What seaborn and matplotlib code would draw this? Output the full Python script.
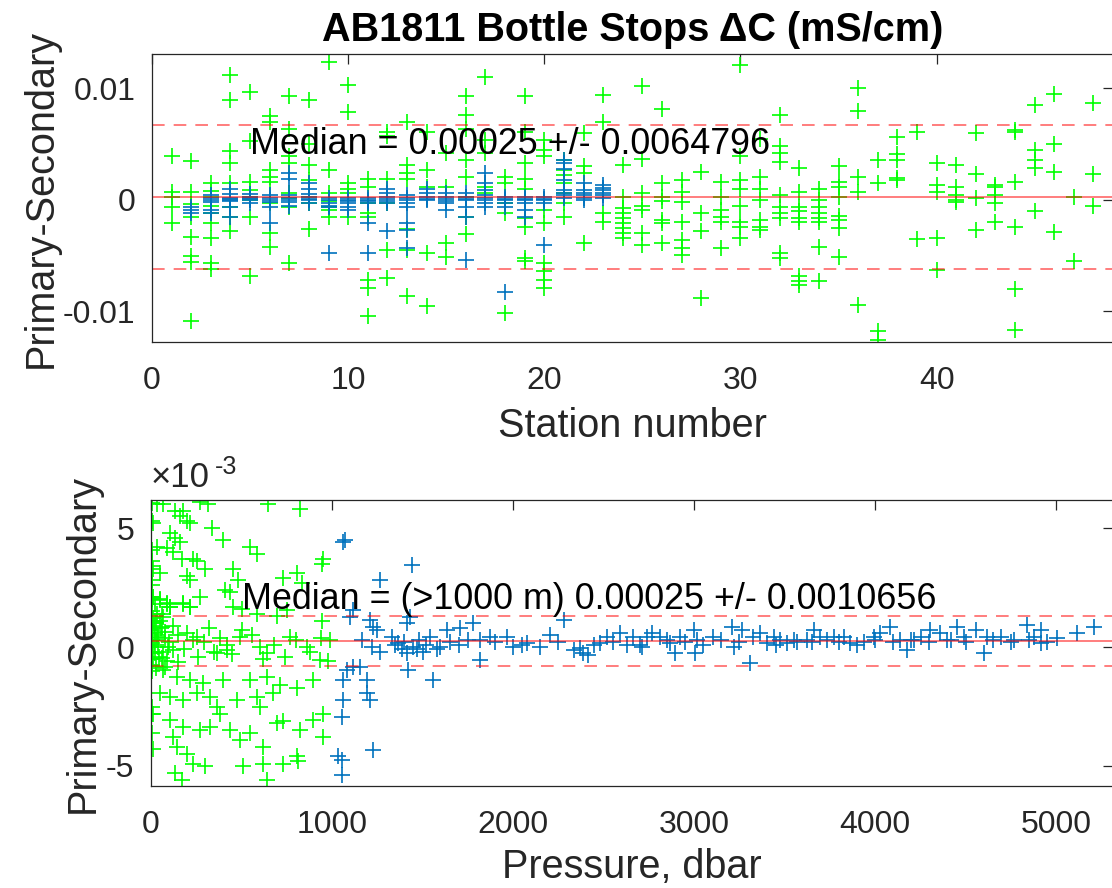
import numpy as np
import pandas as pd
import matplotlib
matplotlib.use("Agg")
import matplotlib.pyplot as plt
import seaborn as sns

# values in units of 1e-3 mS/cm
SCALE = 1e-3

# top panel: shallow (green) bottles per station, index 0 -> station 1
top_green = [
    [3.9, 0.75, 0.3, -0.6, -2.1],
    [3.5, 0.75, -0.4, -1.5, -3.3, -5.0, -5.6, -10.9],
    [1.5, 0.8, 0.3, -0.5, -1.2, -2.1, -3.4, -5.7, -6.2],
    [11.2, 9.0, 4.4, 3.3, 1.5, -0.6, -1.5, -2.8],
    [9.7, 5.3, 1.6, 0.9, 0.3, 0.0, -1.5, -6.8],
    [7.5, 7.0, 2.7, 2.1, 1.6, -0.3, -3.0, -4.2],
    [9.3, 6.4, 3.9, 3.3, 0.6, 0.2, -0.6, -5.7],
    [9.0, 5.0, 3.1, 1.8, 0.3, -0.3, -2.6],
    [12.4, 2.7, 0.6, -0.1, -0.6, -0.9, -1.5],
    [10.3, 7.9, 1.5, 1.0, 0.6, -1.5],
    [1.9, 1.2, -0.3, -1.2, -1.5, -7.2, -7.9, -10.4],
    [6.1, 5.7, 1.9, -0.3, -4.5, -7.0],
    [7.0, 3.1, 2.4, 1.9, -2.6, -4.5, -8.6],
    [6.1, 2.7, 1.2, -4.8, -9.5],
    [4.2, 1.2, -3.9, -5.1],
    [9.3, 7.6, 6.4, 3.6, 2.1, 0.3, -1.5, -3.1],
    [11.0, 5.4, 4.2, 1.2, 0.6],
    [2.1, 1.5, -0.3, -1.2, -10.1],
    [9.3, 6.1, 3.3, 1.9, 1.0, -1.6, -2.4, -5.2, -5.5],
    [5.4, 4.5, 3.9, -0.9, -2.1, -5.7, -6.4, -7.2, -7.9],
    [3.6, 2.7, 2.2, 1.5, 0.6, -0.3, -1.5],
    [6.0, 3.0, 2.4, -3.9],
    [9.4, 7.0, -1.2, -2.0],
    [3.1, 0.3, -0.7, -1.2, -1.6, -2.1, -2.5, -3.0, -3.4],
    [10.2, 3.7, 0.6, -0.5, -0.9, -3.0, -4.0],
    [8.2, 1.5, 0.3, -0.1, -1.8, -2.1, -3.9],
    [1.8, 0.75, -0.15, -2.0, -3.6, -4.3, -4.9],
    [2.5, -1.2, -2.8, -8.8],
    [1.6, 0.3, -0.9, -1.5, -2.0, -4.3],
    [12.1, 3.9, 1.8, 1.0, -0.5, -2.0, -2.4, -3.4],
    [5.5, 2.1, 1.0, 0.0, -1.8, -2.4, -2.7],
    [7.6, 4.8, 4.2, 3.4, 0.45, -0.6, -1.2, -1.6, -4.8, -5.2],
    [2.9, 0.75, -0.6, -1.0, -1.6, -2.0, -6.8, -7.3, -7.6],
    [1.0, 0.0, -0.6, -1.2, -1.6, -2.0, -4.2, -7.3],
    [3.0, 1.6, 1.2, 0.3, -1.4, -1.8, -2.5, -5.1],
    [10.0, 8.0, 2.1, 0.75, -9.4],
    [3.6, 1.5, -11.8, -12.6],
    [5.6, 4.1, 3.6, 2.0, 1.8],
    [6.1, -3.5],
    [3.35, 1.35, 0.75, -3.4, -6.3],
    [3.1, 1.2, 0.45, 0.0, -0.15],
    [6.0, 2.3, 0.15, -2.7],
    [1.35, 1.2, 0.45, -0.3, -2.0],
    [6.3, 6.1, 1.6, -2.4, -8.0, -11.7],
    [8.5, 4.5, 3.6, 2.9, -0.96],
    [9.5, 5.0, 2.5, -2.9],
    [0.3, -5.5],
    [8.7, 2.3, -0.5],
]

# top panel: deep (blue) bottles, stations 2..23
top_blue_stations = list(range(2, 24))
top_blue = [
    [-0.6, -0.9, -1.2],
    [0.4, 0.2, 0.0, -0.2, -0.9, -1.2],
    [1.0, 0.5, 0.2, 0.1, 0.0, -0.1, -0.6, -1.5],
    [0.5, 0.3, 0.2, 0.1, 0.0, -0.3],
    [0.4, 0.2, 0.0, -0.2, -0.6, -2.1],
    [2.4, 1.9, 0.4, 0.2, 0.0, -0.2, -0.5],
    [1.5, 1.0, 0.5, 0.3, 0.1, 0.0, -0.3],
    [0.2, 0.0, -0.3, -0.5, -0.6, -4.8],
    [0.2, 0.0, -0.1, -0.3, -0.6, -0.9],
    [0.2, 0.0, -0.1, -0.3, -2.1, -4.8],
    [1.0, 0.6, 0.3, 0.1, -0.1, -0.3, -2.8],
    [0.4, 0.2, 0.0, -0.3, -0.6, -2.1, -2.7, -4.3],
    [1.0, 0.6, 0.3, 0.1, 0.0],
    [0.6, 0.3, 0.1, -0.1, -0.3, -0.9],
    [0.6, 0.3, 0.1, 0.0, -0.6, -1.5, -5.4],
    [2.4, 1.5, 0.9, 0.4, 0.2, 0.0, -0.3, -0.6],
    [0.3, 0.1, 0.0, -0.3, -0.6, -8.3],
    [0.3, 0.1, 0.0, -0.3, -0.9, -1.5],
    [0.3, 0.1, 0.0, -0.3, -4.0],
    [3.6, 3.3, 2.8, 1.8, 0.9, 0.6, 0.4, 0.2],
    [1.5, 0.9, 0.6, 0.4, 0.2, 0.0],
    [1.3, 1.1, 0.9, 0.6, 0.4, 0.2],
]

# bottom panel: shallow (green) bottles, pressure (dbar) and dC (1e-3)
bot_green_p = [
    31, 68, 271, 317, 648, 823, 133, 179, 160, 197, 215, 13, 335, 105, 133, 160,
    400, 31, 87, 123, 547, 584, 952, 943, 170, 234, 252, 298, 455, 483, 13, 50,
    197, 215, 731, 805, 833, 409, 271, 437, 13, 50, 87, 105, 179, 215, 455, 501,
    584, 694, 750, 943,
    5, 10, 15, 20, 25, 30, 35, 40, 45, 55, 60, 65, 75, 90, 8, 12, 18, 22, 28,
    5, 5, 5, 50, 100, 120, 150, 180, 200, 230, 260, 290, 320, 350, 380, 420,
    450, 500, 560, 620, 680, 740, 800, 880, 940, 980,
    68, 142, 215, 289, 400, 547, 639, 713, 805, 897, 50, 105, 179, 252, 326,
    363, 473, 584, 602, 676, 13, 105, 179, 271, 326, 381, 437, 492, 547, 694,
    731, 823, 897, 952, 952, 13, 123, 142, 197, 234, 298, 133, 170, 510, 621,
    621, 639, 731, 805, 814,
    3, 3, 3, 3, 3, 3, 3, 3, 3, 3, 3, 3, 3, 3, 3, 3, 3,
    13, 50, 87, 105, 31, 68, 22, 59, 78, 40, 4, 96, 123, 22, 59, 151, 4, 78,
    179, 215, 252, 363, 418, 492, 602, 639, 768, 860, 934, 989,
]
bot_green_dc = [
    6.0, 6.0, 6.1, 6.0, 6.0, 5.8, 5.7, 5.7, 5.5, 5.3, 5.2, 5.2, 5.0, 4.8, 4.6, 4.4,
    4.5, 4.2, 4.15, 4.0, 4.2, 3.9, 3.7, 3.5, 3.7, 3.7, 3.6, 3.3, 3.3, 2.8, 3.3, 3.1,
    3.0, 2.8, 2.9, 3.1, 2.7, 2.4, 2.1, 2.3, 2.1, 2.0, 1.8, 1.7, 1.8, 1.7, 1.7, 1.6,
    1.4, 1.3, 1.55, 1.1,
    1.5, 1.2, 0.9, 0.6, 0.3, 1.0, 0.5, 0.0, -0.4, 0.8, 1.4, -0.2, 0.4, -0.6, -0.2, -0.5, 0.1, 1.8, -0.9,
    2.6, 0.3, -1.0, 1.1, 0.2, 0.9, 0.5, -0.1, 0.6, 0.3, -0.4, 0.2, 0.8, -0.2, 0.4, 0.1,
    -0.3, 0.7, 0.5, -0.5, 0.1, -0.4, 0.3, -0.2, 0.4, -0.6,
    -0.97, -1.25, -1.4, -1.53, -1.4, -1.4, -1.25, -1.6, -1.74, -1.4, -1.95, -2.1, -2.23, -1.95, -2.1,
    -2.5, -2.23, -2.1, -2.5, -1.95, -2.8, -3.07, -3.35, -3.5, -3.35, -2.8, -3.5, -3.9, -3.6, -3.2,
    -3.1, -3.5, -3.07, -2.8, -3.8, -4.3, -3.8, -4.2, -4.5, -4.9, -5.0, -5.3, -5.6, -5.0, -4.2,
    -4.9, -5.6, -4.9, -4.6, -4.8,
    6.05, 5.3, 4.1, 3.6, 3.4, 2.8, 2.0, 1.1, 0.8, 0.7, 0.3, -0.25, -0.5, -0.8, -2.5, -2.8, -3.6,
    2.12, 1.98, 1.84, 1.69, 1.41, 1.27, 0.99, 0.85, 0.64, 0.43, 0.15, 0.0, -0.14, -0.27, -0.48, -0.62, -0.76, -0.83,
    1.84, 1.69, 0.43, -0.27, -0.14, 0.43, 0.0, -0.27, 0.43, 0.0, -0.55, 0.29,
]

# bottom panel: deep (blue) bottles
bot_blue_p = [
    1063, 1440, 1265, 1118, 1099, 1210, 1229, 1247, 1413, 1431, 1164, 1220, 1265,
    1330, 1366, 1385, 1413, 1468, 1505, 1541, 1597, 1634, 1708, 1781, 1818, 1873,
    1965, 2002, 2076, 2149, 2205, 2279, 2334, 2389, 1818, 1560, 1422, 1192, 1192,
    1210, 1063, 1053, 1229, 1053, 1053, 1118, 1081, 1155, 1063, 1072, 1035,
    2370, 2416, 2481, 2518, 2591, 2628, 2665, 2711, 2739, 2766, 2812, 2868, 2895,
    2923, 2997, 3006, 3015, 3107, 3209, 3218, 3264, 3310, 3328, 3365, 3402, 3439,
    3476, 3513, 3568, 3623, 3660, 3697, 3734, 3771, 3826, 3863, 3937, 3992, 4029,
    4085, 4140, 4177, 4214, 4251, 4306, 4361, 4417, 4453, 4490, 4555, 4601, 4619,
    4693, 4766, 4840, 4877, 4914, 4914, 5006, 5117, 5209,
    1350, 1400, 1450, 1480, 1520, 1580, 1650, 1700, 1750, 1900, 2050, 2250, 2450,
    2550, 2700, 2850, 2950, 3050, 3150, 3250, 3450, 3550, 3650, 3800, 3900, 4000,
    4100, 4200, 4300, 4400, 4500, 4650, 4750, 4850, 4950,
]
bot_blue_dc = [
    4.43, 3.45, 2.82, 1.55, 1.27, 1.13, 0.85, 0.71, 0.99, 1.27, 0.29, 0.0, -0.2,
    0.43, 0.15, -0.07, -0.27, -0.07, -0.2, 0.43, 0.0, 0.71, 0.78, 0.99, 0.29, 0.43,
    0.43, 0.0, 0.15, 0.0, 0.5, 1.13, -0.13, -0.27, -0.55, -1.4, -0.97, -1.4, -1.95,
    -2.23, -2.23, -2.93, -4.33, -4.75, -5.38, -0.83, -0.97, -0.83, -1.4, 4.5, -4.6,
    -0.04, -0.32, 0.15, 0.43, 0.57, 0.08, 0.43, 0.0, 0.43, 0.57, 0.43, 0.15, -0.27,
    0.43, 0.71, -0.27, 0.29, 0.43, 0.85, 0.0, 0.71, -0.69, 0.43, 0.57, 0.15, 0.43,
    0.29, 0.15, 0.22, 0.29, 0.71, 0.43, 0.29, 0.43, 0.43, 0.15, 0.22, 0.43, 0.57,
    0.85, 0.29, -0.13, 0.29, 0.43, 0.71, 0.57, 0.29, 0.85, 0.43, 0.71, -0.27, 0.43,
    0.43, 0.29, 0.92, 0.43, 0.71, 0.15, 0.36, 0.57, 0.85,
    0.1, 0.2, 0.0, 0.3, 0.1, -0.1, 0.2, 0.1, 0.3, 0.2, 0.1, 0.2, 0.1,
    0.2, 0.1, 0.3, 0.2, 0.1, 0.3, 0.2, 0.1, 0.3, 0.2, 0.2, 0.1, 0.3,
    0.2, 0.3, 0.2, 0.3, 0.2, 0.3, 0.2, 0.3, 0.2,
]

median = 0.00025
spread_top = 0.0064796
spread_bot = 0.0010656

GREEN = "#00ff00"
BLUE = "#0072bd"
AX_COLOR = "#262626"
FONT = ["Liberation Sans", "DejaVu Sans"]
LABEL_SIZE = 28.5

sns.set_theme(style="white")
plt.rcParams["font.family"] = FONT
plt.rcParams["axes.unicode_minus"] = False


def flatten(stations, groups):
    st, dc = [], []
    for s, vals in zip(stations, groups):
        st += [s] * len(vals)
        dc += [v * SCALE for v in vals]
    return pd.DataFrame({"x": st, "y": dc})


df_tg = flatten(range(1, len(top_green) + 1), top_green)
df_tb = flatten(top_blue_stations, top_blue)
df_bg = pd.DataFrame({"x": bot_green_p, "y": np.array(bot_green_dc) * SCALE})
df_bb = pd.DataFrame({"x": bot_blue_p, "y": np.array(bot_blue_dc) * SCALE})


def style_axes(ax):
    for sp in ax.spines.values():
        sp.set_color(AX_COLOR)
        sp.set_linewidth(0.9)
    ax.tick_params(direction="in", top=True, right=True, length=7, width=0.9,
                   colors=AX_COLOR, labelsize=23)
    ax.tick_params(axis="y", pad=12)
    ax.tick_params(axis="x", pad=17)


def ref_lines(ax, spread):
    ax.axhline(median, color="red", alpha=0.55, lw=1.3)
    ax.axhline(median + spread, color="red", alpha=0.55, lw=1.3, dashes=(7, 5))
    ax.axhline(median - spread, color="red", alpha=0.55, lw=1.3, dashes=(7, 5))


fig = plt.figure(figsize=(11.12, 8.88), dpi=100)
ax1 = fig.add_axes([0.1367, 0.6149, 0.8643, 0.3243])
ax2 = fig.add_axes([0.1358, 0.1149, 0.8652, 0.3220])

mk = dict(marker="+", s=130, linewidth=1.2, legend=False)

# top: station number
sns.scatterplot(data=df_tg, x="x", y="y", color=GREEN, ax=ax1, **mk)
sns.scatterplot(data=df_tb, x="x", y="y", color=BLUE, ax=ax1, **mk)
ref_lines(ax1, spread_top)
ax1.set_xlim(0, 49)
ax1.set_ylim(-0.01274, 0.01309)
ax1.set_xticks([0, 10, 20, 30, 40])
ax1.set_yticks([-0.01, 0, 0.01])
ax1.set_yticklabels(["-0.01", "0", "0.01"])
style_axes(ax1)
ax1.set_xlabel("Station number", fontsize=LABEL_SIZE, color=AX_COLOR, labelpad=8)
ax1.set_ylabel("Primary-Secondary", fontsize=LABEL_SIZE, color=AX_COLOR, labelpad=2)
ax1.set_title("AB1811 Bottle Stops \u0394C (mS/cm)", fontsize=LABEL_SIZE,
              fontweight="bold", color="black", pad=9)
ax1.text(5, 0.005, f"Median = {median:g} +/- {spread_top:g}", fontsize=25.8,
         va="center", ha="left", color="black")

# bottom: pressure
sns.scatterplot(data=df_bg, x="x", y="y", color=GREEN, ax=ax2, **mk)
sns.scatterplot(data=df_bb, x="x", y="y", color=BLUE, ax=ax2, **mk)
ref_lines(ax2, spread_bot)
ax2.set_xlim(0, 5315)
ax2.set_ylim(-0.00584, 0.00618)
ax2.set_xticks([0, 1000, 2000, 3000, 4000, 5000])
ax2.set_yticks([-0.005, 0, 0.005])
ax2.set_yticklabels(["-5", "0", "5"])
style_axes(ax2)
ax2.set_xlabel("Pressure, dbar", fontsize=LABEL_SIZE, color=AX_COLOR, labelpad=6)
ax2.set_ylabel("Primary-Secondary", fontsize=LABEL_SIZE, color=AX_COLOR, labelpad=3)
ax2.text(500, 0.002, f"Median = (>1000 m) {median:g} +/- {spread_bot:g}", fontsize=25.8,
         va="center", ha="left", color="black")
ax2.text(0.0, 1.02, "\u00d710", transform=ax2.transAxes, fontsize=25,
         color=AX_COLOR, ha="left", va="bottom")
ax2.text(0.066, 1.075, "-3", transform=ax2.transAxes, fontsize=18,
         color=AX_COLOR, ha="left", va="bottom")

fig.savefig("out.png", dpi=100)
